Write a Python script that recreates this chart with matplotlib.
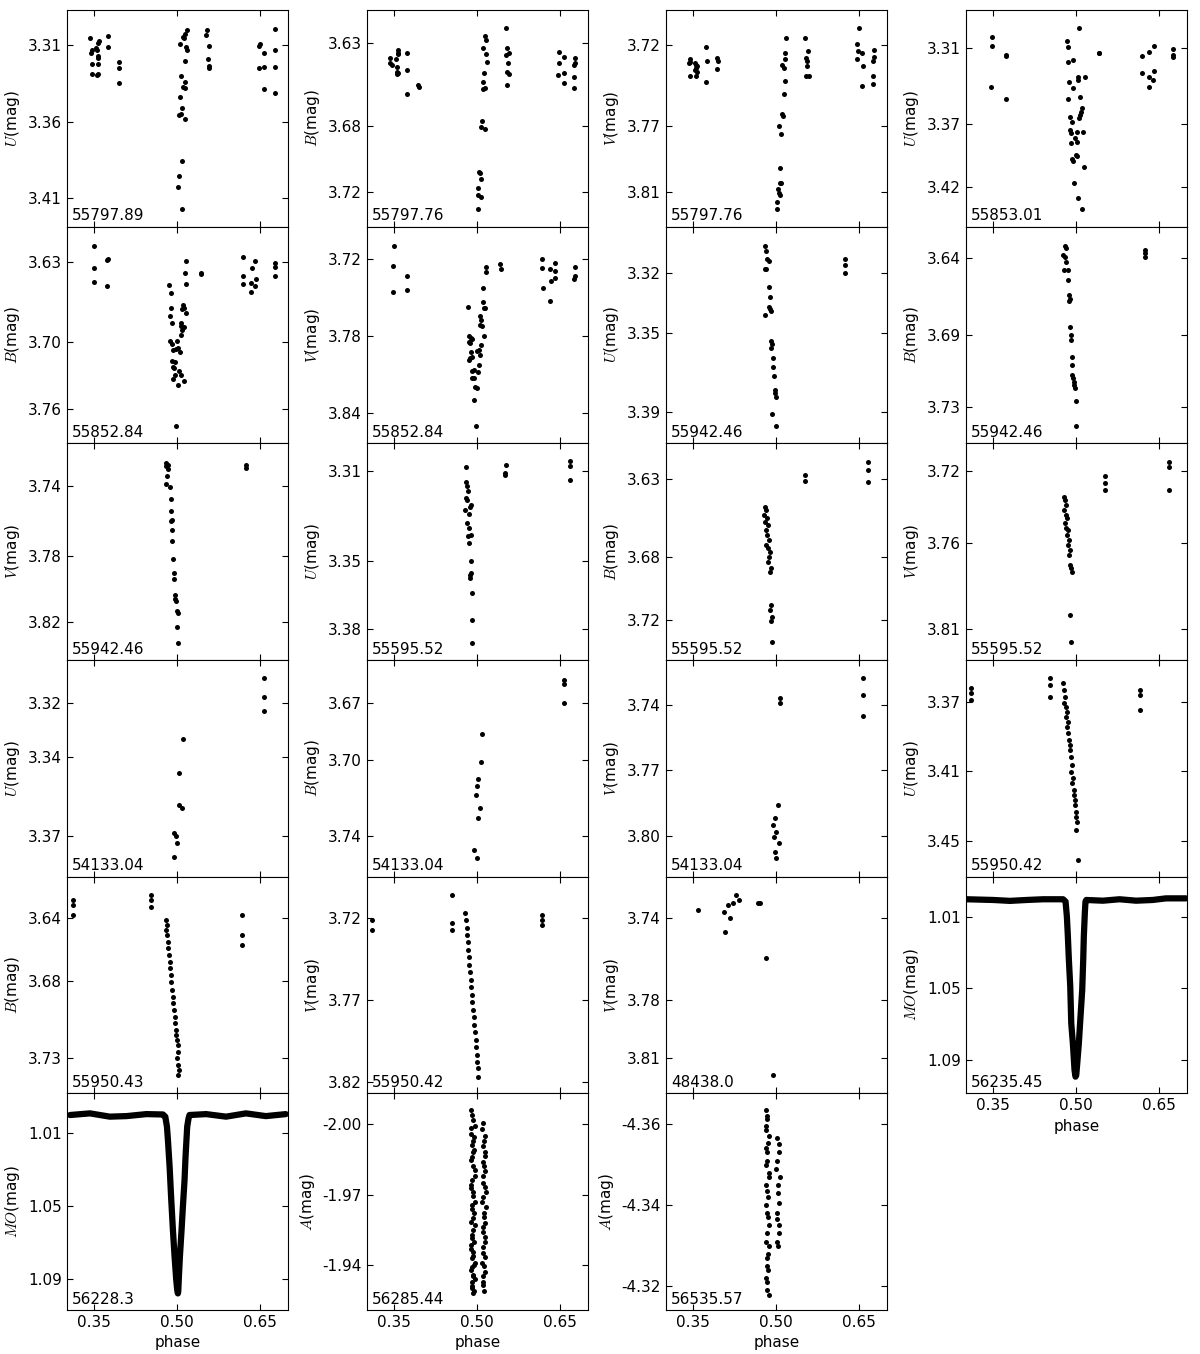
import matplotlib
matplotlib.use('Agg')
import numpy as np
import matplotlib.pyplot as plt
from matplotlib.ticker import FormatStrFormatter

plt.rcParams['font.family'] = 'DejaVu Sans'
plt.rcParams['mathtext.fontset'] = 'cm'
plt.rcParams['font.size'] = 11

# ---------------- data: phase / magnitude per night and band ----------------
ph_u1 = [0.343, 0.358, 0.356, 0.345, 0.344, 0.354, 0.353, 0.356, 0.356, 0.346, 0.356, 0.346, 0.354, 0.357, 0.374, 0.375, 0.394, 0.394, 0.394,
         0.518, 0.513, 0.511, 0.512, 0.505, 0.515, 0.517, 0.513, 0.506, 0.513, 0.510, 0.514, 0.504, 0.509, 0.506, 0.503, 0.514, 0.508, 0.503, 0.502, 0.509,
         0.553, 0.552, 0.557, 0.555, 0.557, 0.558,
         0.649, 0.647, 0.657, 0.647, 0.657, 0.657,
         0.677, 0.677, 0.676, 0.676]
mag_u1 = [3.305, 3.307, 3.3085, 3.3133, 3.315, 3.3128, 3.3115, 3.3172, 3.3183, 3.322, 3.322, 3.3289, 3.3296, 3.3289, 3.3041, 3.3111, 3.3209, 3.3248, 3.3346,
          3.3002, 3.3024, 3.3046, 3.305, 3.3089, 3.3111, 3.3133, 3.3202, 3.3302, 3.3339, 3.3376, 3.3378, 3.3437, 3.3509, 3.355, 3.3554, 3.3585, 3.3854, 3.3952, 3.4024, 3.4172,
          3.3002, 3.3033, 3.3102, 3.3191, 3.3237, 3.3248,
          3.3089, 3.3102, 3.3148, 3.3248, 3.3241, 3.3387,
          3.2991, 3.3133, 3.3241, 3.3415]

ph_b1 = [0.343, 0.342, 0.345, 0.353, 0.354, 0.356, 0.356, 0.356, 0.355, 0.357, 0.354, 0.373, 0.373, 0.372, 0.393, 0.394,
         0.514, 0.516, 0.511, 0.516, 0.517, 0.512, 0.511, 0.513, 0.510, 0.508, 0.506, 0.513, 0.503, 0.505, 0.507, 0.502, 0.502, 0.506, 0.502,
         0.552, 0.554, 0.552, 0.557, 0.556, 0.554, 0.557, 0.554,
         0.647, 0.656, 0.648, 0.646, 0.656, 0.656, 0.676, 0.676, 0.674, 0.674, 0.674]
mag_b1 = [3.6387, 3.6417, 3.6433, 3.6397, 3.6441, 3.634, 3.6356, 3.6366, 3.6471, 3.6481, 3.6485, 3.6356, 3.6461, 3.6608, 3.6552, 3.6566,
          3.6256, 3.628, 3.633, 3.6366, 3.6411, 3.6481, 3.6532, 3.6572, 3.6578, 3.6767, 3.6808, 3.682, 3.7075, 3.7081, 3.7122, 3.7172, 3.7216, 3.7231, 3.7301,
          3.6209, 3.633, 3.637, 3.636, 3.6421, 3.6471, 3.6485, 3.655,
          3.635, 3.6381, 3.6421, 3.6491, 3.6481, 3.6542, 3.6391, 3.6421, 3.6433, 3.6501, 3.6572]

ph_v1 = [0.3436, 0.3424, 0.3448, 0.3526, 0.355, 0.3556, 0.3574, 0.3526, 0.3574, 0.3448, 0.3556, 0.3736, 0.3742, 0.3736, 0.3928, 0.394, 0.3928,
         0.5182, 0.5158, 0.5158, 0.511, 0.5134, 0.5164, 0.5146, 0.5098, 0.5122, 0.5056, 0.5086, 0.5074, 0.5062, 0.5086, 0.5032, 0.5044, 0.5062, 0.502, 0.502,
         0.5518, 0.5578, 0.5536, 0.5554, 0.5548, 0.5536, 0.559,
         0.649, 0.6466, 0.6484, 0.646, 0.6556, 0.6562, 0.6544, 0.6766, 0.6766, 0.6754, 0.6754, 0.6754]
mag_v1 = [3.7286, 3.7312, 3.7306, 3.7312, 3.7323, 3.7343, 3.7329, 3.7353, 3.7364, 3.739, 3.739, 3.721, 3.7298, 3.7429, 3.7282, 3.7298, 3.7347,
          3.7159, 3.7247, 3.7288, 3.7323, 3.7343, 3.7419, 3.7501, 3.7623, 3.7634, 3.7697, 3.7748, 3.7957, 3.8045, 3.8045, 3.8085, 3.8106, 3.812, 3.8161, 3.8208,
          3.7159, 3.7237, 3.7282, 3.7298, 3.7327, 3.739, 3.739,
          3.7098, 3.7196, 3.7235, 3.7288, 3.7247, 3.7329, 3.7449, 3.7231, 3.7272, 3.7298, 3.739, 3.7439]

ph_u2 = [0.3484, 0.3472, 0.3466, 0.3724, 0.3736, 0.3724,
         0.5044, 0.4834, 0.4858, 0.4858, 0.4942, 0.5026, 0.5038, 0.5158, 0.487, 0.4942, 0.5062, 0.4846, 0.5098, 0.5086, 0.5062, 0.505, 0.4894,
         0.4924, 0.4882, 0.49, 0.5014, 0.5116, 0.4978, 0.502, 0.4906, 0.499, 0.5008, 0.4924, 0.4942, 0.5146, 0.496, 0.5032, 0.5104,
         0.5416, 0.5404,
         0.6178, 0.6178, 0.6316, 0.64, 0.6316, 0.631, 0.64, 0.6388, 0.6754, 0.6754, 0.6748]
mag_u2 = [3.3007, 3.3081, 3.3405, 3.3153, 3.3161, 3.3506,
          3.2941, 3.3042, 3.3092, 3.3206, 3.3193, 3.3325, 3.3352, 3.3325, 3.3365, 3.3413, 3.3485, 3.3506, 3.3577, 3.3604, 3.363, 3.3657, 3.3644,
          3.3683, 3.375, 3.3776, 3.3763, 3.3763, 3.3816, 3.3843, 3.3856, 3.3949, 3.3957, 3.3983, 3.3994, 3.4047, 3.4174, 3.4288, 3.4381,
          3.314, 3.3134,
          3.3161, 3.3299, 3.3127, 3.3081, 3.3331, 3.3405, 3.3283, 3.3352, 3.3105, 3.3166, 3.3153]

ph_b2 = [0.3491, 0.3485, 0.3491, 0.3743, 0.3737, 0.3737,
         0.4853, 0.4883, 0.4883, 0.4865, 0.4895, 0.4859, 0.4907, 0.4997, 0.4919, 0.4967, 0.5015, 0.5045, 0.4895, 0.4949, 0.4919,
         0.4943, 0.5033, 0.4949, 0.5057, 0.4925, 0.5003, 0.5129, 0.4973,
         0.5153, 0.5141, 0.5159, 0.5111, 0.5081, 0.5129, 0.5165, 0.5057, 0.5075, 0.5117, 0.5081, 0.5069,
         0.5429, 0.5435,
         0.6191, 0.6407, 0.6341, 0.6191, 0.6419, 0.6185, 0.6323, 0.6407, 0.6329, 0.6773, 0.6773, 0.6767]
mag_b2 = [3.6153, 3.6347, 3.6477, 3.6273, 3.6282, 3.6506,
          3.65, 3.6568, 3.6707, 3.6775, 3.6839, 3.6996, 3.7019, 3.6996, 3.7078, 3.7066, 3.706, 3.7096, 3.7169, 3.7178, 3.7228,
          3.7237, 3.7258, 3.7296, 3.7296, 3.7334, 3.7388, 3.7346, 3.7747,
          3.6285, 3.6391, 3.6489, 3.6677, 3.6713, 3.6707, 3.6745, 3.6839, 3.6863, 3.6869, 3.6898, 3.6942,
          3.6391, 3.6406,
          3.625, 3.6285, 3.6347, 3.6418, 3.6447, 3.6489, 3.648, 3.6506, 3.6559, 3.6309, 3.6338, 3.6418]

ph_v2 = [0.3492, 0.3474, 0.348, 0.3732, 0.3726,
         0.4836, 0.4842, 0.4878, 0.4902, 0.4848, 0.486, 0.4878, 0.4986, 0.5028, 0.5064, 0.5112, 0.5052, 0.4872, 0.4896, 0.4854,
         0.5028, 0.4896, 0.4938, 0.5016, 0.4908, 0.4944, 0.4956, 0.4998, 0.4932, 0.4968,
         0.5148, 0.5148, 0.5106, 0.51, 0.513, 0.5112, 0.5052, 0.5064, 0.5046, 0.5076,
         0.5418, 0.5424,
         0.6168, 0.6168, 0.6318, 0.6402, 0.6402, 0.6396, 0.633, 0.6318, 0.618, 0.6756, 0.6756, 0.675]
mag_v2 = [3.7096, 3.7254, 3.7454, 3.7332, 3.7441,
          3.7571, 3.7799, 3.7817, 3.7822, 3.7848, 3.7856, 3.7921, 3.7915, 3.7908, 3.7869, 3.7799, 3.7947, 3.7967, 3.7959, 3.7985,
          3.8024, 3.8068, 3.8063, 3.8076, 3.8128, 3.8123, 3.8193, 3.8206, 3.8296, 3.8499,
          3.7265, 3.7304, 3.7428, 3.7532, 3.7578, 3.7584, 3.7641, 3.7674, 3.7713, 3.7718,
          3.7241, 3.7278,
          3.7203, 3.7273, 3.728, 3.7234, 3.7293, 3.735, 3.7371, 3.7524, 3.7423, 3.7262, 3.733, 3.7356]

ph_u3 = [0.4788, 0.4818, 0.4836, 0.486, 0.4788, 0.4818, 0.4866, 0.4884, 0.4872, 0.4884, 0.4896, 0.4794, 0.4902, 0.4914, 0.4902,
         0.4932, 0.4938, 0.495, 0.4968, 0.498, 0.4992, 0.4926, 0.4992, 0.624, 0.6246, 0.6246]
mag_u3 = [3.3061, 3.3087, 3.3128, 3.3138, 3.318, 3.318, 3.3267, 3.3318, 3.3368, 3.338, 3.339, 3.3408, 3.3541, 3.3558, 3.3578,
          3.3628, 3.367, 3.3717, 3.3788, 3.3805, 3.3821, 3.3909, 3.3969, 3.3128, 3.3158, 3.3197]

ph_b3 = [0.4788, 0.4806, 0.4764, 0.48, 0.4812, 0.4776, 0.4854, 0.4854, 0.486, 0.4878, 0.4866, 0.489, 0.4902, 0.4896, 0.492,
         0.4926, 0.4914, 0.4938, 0.495, 0.4956, 0.4968, 0.4992, 0.4986, 0.6234, 0.6234, 0.6234]
mag_b3 = [3.6328, 3.634, 3.6384, 3.6394, 3.6424, 3.6474, 3.6474, 3.6535, 3.6625, 3.665, 3.6662, 3.6817, 3.6867, 3.6897, 3.6998,
          3.7048, 3.7109, 3.7125, 3.7149, 3.7169, 3.7189, 3.7264, 3.7417, 3.6354, 3.6374, 3.6394]

ph_v3 = [0.4799, 0.4823, 0.4787, 0.4835, 0.4805, 0.4787, 0.4865, 0.4877, 0.4877, 0.4895, 0.4883, 0.4901, 0.4907, 0.4919, 0.4931,
         0.4937, 0.4949, 0.4961, 0.4967, 0.4991, 0.5003, 0.4985, 0.5003, 0.6245, 0.6239]
mag_v3 = [3.726, 3.7272, 3.728, 3.7296, 3.7339, 3.7384, 3.7404, 3.7477, 3.7547, 3.7597, 3.7606, 3.7656, 3.7724, 3.7826, 3.7911,
          3.7944, 3.8043, 3.8062, 3.8074, 3.8137, 3.8145, 3.8231, 3.8324, 3.7276, 3.7292]

ph_u4 = [0.4788, 0.48, 0.4812, 0.4824, 0.48, 0.4806, 0.4878, 0.4866, 0.4782, 0.4848, 0.4818, 0.4842, 0.4878, 0.483, 0.4842,
         0.4878, 0.489, 0.4866, 0.4866, 0.4902, 0.4908, 0.4908, 0.552, 0.5508, 0.5508, 0.6678, 0.6678, 0.6678]
mag_u4 = [3.3081, 3.3147, 3.3166, 3.3189, 3.3218, 3.3228, 3.3248, 3.3258, 3.327, 3.3288, 3.3327, 3.335, 3.3381, 3.3388, 3.3418,
          3.3499, 3.3549, 3.3561, 3.3571, 3.3639, 3.376, 3.3861, 3.307, 3.3107, 3.3118, 3.3056, 3.3078, 3.314]

ph_b4 = [0.4787, 0.4805, 0.4769, 0.4823, 0.4787, 0.4841, 0.4805, 0.4823, 0.4859, 0.4805, 0.4841, 0.4877, 0.4859, 0.4841, 0.4895,
         0.4877, 0.4895, 0.4877, 0.4913, 0.4895, 0.4913, 0.5522, 0.5522, 0.6656, 0.6656, 0.6656]
mag_b4 = [3.6479, 3.6498, 3.653, 3.6549, 3.6574, 3.6594, 3.6625, 3.6657, 3.6689, 3.6721, 3.674, 3.6766, 3.6798, 3.683, 3.6868,
          3.6893, 3.7104, 3.7136, 3.7181, 3.7206, 3.734, 3.6274, 3.6313, 3.6192, 3.6243, 3.6319]

ph_v4 = [0.4769, 0.4787, 0.4805, 0.4769, 0.4805, 0.4823, 0.4787, 0.4805, 0.4841, 0.4823, 0.4859, 0.4841, 0.4877, 0.4859, 0.4877,
         0.4895, 0.4913, 0.4877, 0.4895, 0.5509, 0.5509, 0.5509, 0.6677, 0.6677, 0.6677]
mag_v4 = [3.7348, 3.7365, 3.7394, 3.7422, 3.7451, 3.7468, 3.7496, 3.7525, 3.7536, 3.7565, 3.7593, 3.7622, 3.765, 3.7679, 3.7736,
          3.7753, 3.7775, 3.8021, 3.8174, 3.7228, 3.7268, 3.7308, 3.7149, 3.7177, 3.7308]

ph_u5 = [0.657, 0.657, 0.657, 0.5097, 0.5022, 0.5022, 0.5076, 0.4931, 0.4967, 0.4985, 0.4931]
mag_u5 = [3.3106, 3.3177, 3.323, 3.3335, 3.3463, 3.3583, 3.3595, 3.3689, 3.37, 3.3726, 3.3779]

ph_b5 = [0.657, 0.657, 0.657, 0.5093, 0.5075, 0.5003, 0.4985, 0.4967, 0.5039, 0.5003, 0.4931, 0.4985]
mag_b5 = [3.6579, 3.66, 3.67, 3.6863, 3.7011, 3.71, 3.7137, 3.7184, 3.7253, 3.7305, 3.7474, 3.7516]

ph_v5 = [0.657, 0.657, 0.657, 0.5075, 0.5075, 0.5021, 0.4967, 0.4931, 0.4985, 0.4949, 0.5039, 0.4967, 0.4985]
mag_v5 = [3.7276, 3.7354, 3.745, 3.7368, 3.7391, 3.7858, 3.7918, 3.795, 3.7982, 3.8005, 3.8032, 3.8073, 3.8101]

ph_u6 = [0.3095, 0.3095, 0.3095, 0.4517, 0.4517, 0.4517,
         0.4751, 0.4769, 0.4787, 0.4769, 0.4805, 0.4823, 0.4805, 0.4841, 0.4823, 0.4841, 0.4859, 0.4877, 0.4877, 0.4895,
         0.4913, 0.4895, 0.4931, 0.4913, 0.4949, 0.4949, 0.4967, 0.4967, 0.4985, 0.4985, 0.5003, 0.4985, 0.5021,
         0.6157, 0.6157, 0.6157]
mag_u6 = [3.3619, 3.3648, 3.3688, 3.3562, 3.3602, 3.3671,
          3.3591, 3.3631, 3.3671, 3.3706, 3.3729, 3.3758, 3.3786, 3.3815, 3.3844, 3.3878, 3.3919, 3.3948, 3.3976, 3.4017,
          3.4063, 3.4103, 3.4138, 3.4166, 3.4207, 3.4235, 3.4264, 3.4293, 3.4333, 3.4362, 3.4391, 3.4437, 3.461,
          3.3631, 3.366, 3.3746]

ph_b6 = [0.3113, 0.3113, 0.3113, 0.4517, 0.4517, 0.4517, 0.6175, 0.6175, 0.6175,
         0.4787, 0.4805, 0.4787, 0.4805, 0.4823, 0.4823, 0.4841, 0.4859, 0.4859, 0.4877, 0.4877, 0.4895, 0.4913,
         0.4913, 0.4931, 0.4949, 0.4949, 0.4967, 0.4967, 0.4985, 0.5003, 0.5003, 0.4985, 0.5003, 0.5021, 0.5003]
mag_b6 = [3.6284, 3.6316, 3.6381, 3.6252, 3.6284, 3.6329, 3.6381, 3.6509, 3.6574,
          3.6413, 3.6445, 3.6477, 3.6509, 3.6554, 3.6593, 3.6638, 3.6683, 3.6722, 3.6767, 3.6812, 3.6863, 3.6908,
          3.6947, 3.6992, 3.7037, 3.7075, 3.712, 3.7152, 3.7185, 3.7217, 3.7262, 3.73, 3.7345, 3.7377, 3.741]

ph_v6 = [0.3095, 0.3095, 0.4535, 0.4535, 0.4535, 0.6175, 0.6175, 0.6175,
         0.4769, 0.4787, 0.4805, 0.4805, 0.4823, 0.4823, 0.4841, 0.4841, 0.4859, 0.4877, 0.4877, 0.4895, 0.4895,
         0.4913, 0.4931, 0.4931, 0.4949, 0.4967, 0.4967, 0.4985, 0.4985, 0.5003, 0.5003]
mag_v6 = [3.7212, 3.7273, 3.706, 3.723, 3.7273, 3.7182, 3.7212, 3.7243,
          3.717, 3.7212, 3.7261, 3.7304, 3.7346, 3.7395, 3.7438, 3.7487, 3.7529, 3.7578, 3.7621, 3.767, 3.7712,
          3.7761, 3.7804, 3.7852, 3.7895, 3.7944, 3.7987, 3.8035, 3.8078, 3.8115, 3.817]

ph_v7 = [0.3581, 0.4049, 0.4067, 0.4121, 0.4157, 0.4211, 0.4265, 0.4319, 0.4661, 0.4697, 0.4805, 0.4931]
mag_v7 = [3.736, 3.737, 3.747, 3.7335, 3.74, 3.7325, 3.7285, 3.731, 3.7325, 3.7325, 3.76, 3.8185]

# dense photometry nights, read along the out-of-eclipse level and both eclipse branches
ph_mo1 = [0.302, 0.350, 0.380, 0.410, 0.440, 0.476,
          0.4805, 0.4829, 0.4847, 0.4865, 0.489, 0.4908, 0.4937, 0.4967, 0.4985,
          0.4998, 0.5016, 0.5045, 0.5075, 0.5106, 0.5124, 0.5135, 0.5153, 0.5165,
          0.518, 0.548, 0.578, 0.608, 0.638, 0.662, 0.698]
mag_mo1 = [1.0003, 1.0007, 1.0012, 1.0007, 1.0003, 1.0003,
           1.0016, 1.01, 1.0212, 1.0342, 1.0491, 1.0695, 1.0807, 1.0956, 1.0993,
           1.0984, 1.0919, 1.0807, 1.0658, 1.0509, 1.0342, 1.0212, 1.0081, 1.0016,
           1.0007, 1.0011, 1.0003, 1.0011, 1.0007, 0.9998, 0.9998]

ph_mo2 = [0.306, 0.342, 0.378, 0.408, 0.444, 0.474,
          0.4782, 0.4812, 0.483, 0.486, 0.489, 0.492, 0.495, 0.498, 0.4998, 0.501,
          0.5016, 0.5028, 0.5046, 0.5076, 0.51, 0.513, 0.5148, 0.5178, 0.5202,
          0.522, 0.552, 0.588, 0.624, 0.66, 0.696]
mag_mo2 = [0.9999, 0.999, 1.0008, 1.0005, 0.9994, 0.9996,
           1.0008, 1.0063, 1.0137, 1.0283, 1.0466, 1.0631, 1.0777, 1.0905, 1.096, 1.0979,
           1.0969, 1.0887, 1.0777, 1.0631, 1.0503, 1.0356, 1.0228, 1.0063, 1.0018,
           0.9999, 0.9994, 1.0008, 0.999, 1.0005, 0.9994]

ph_a1 = [0.489, 0.493, 0.488, 0.494, 0.490, 0.492, 0.489, 0.495, 0.491, 0.488, 0.493, 0.490, 0.494, 0.489, 0.492, 0.491, 0.488,
         0.493, 0.490, 0.494, 0.489, 0.492, 0.491, 0.490, 0.493,
         0.491, 0.495, 0.489, 0.492, 0.494, 0.490, 0.493, 0.496, 0.489, 0.492, 0.495, 0.490, 0.493, 0.496, 0.491, 0.494,
         0.489, 0.492, 0.495, 0.490, 0.493, 0.496, 0.491, 0.494,
         0.510, 0.513, 0.511, 0.514, 0.512, 0.510, 0.513, 0.511, 0.515, 0.512, 0.510, 0.514, 0.511, 0.513, 0.512, 0.510, 0.511, 0.512,
         0.509, 0.512, 0.514, 0.510, 0.513, 0.511, 0.515, 0.509, 0.512, 0.514, 0.510, 0.513, 0.511, 0.509, 0.513, 0.510]
mag_a1 = [-2.006, -2.0017, -1.9983, -1.9945, -1.9911, -1.9881, -1.9847, -1.9804, -1.9762, -1.9728, -1.9694, -1.9655, -1.9621, -1.9583,
          -1.9549, -1.9515, -1.9485, -1.9455, -1.943, -1.94, -1.9379, -1.9353, -1.9328, -1.9302, -1.9281,
          -2.004, -1.999, -1.996, -1.993, -1.989, -1.986, -1.982, -1.978, -1.974, -1.971, -1.967, -1.964, -1.960, -1.957, -1.953, -1.950,
          -1.947, -1.944, -1.941, -1.939, -1.936, -1.934, -1.931, -1.929,
          -2.0005, -1.995, -1.9907, -1.9865, -1.9822, -1.978, -1.9733, -1.969, -1.9648, -1.9605, -1.9562, -1.952, -1.9477, -1.9435,
          -1.9396, -1.9354, -1.9315, -1.929,
          -1.998, -1.993, -1.988, -1.984, -1.980, -1.975, -1.971, -1.967, -1.962, -1.958, -1.954, -1.950, -1.945, -1.941, -1.937, -1.933]

ph_a2 = [0.481, 0.484, 0.482, 0.485, 0.483, 0.481, 0.486, 0.484, 0.482, 0.485, 0.483, 0.486, 0.484, 0.485, 0.483, 0.486,
         0.483, 0.481, 0.486, 0.482, 0.484, 0.487, 0.481, 0.485, 0.483, 0.486, 0.482, 0.485, 0.483, 0.481, 0.484,
         0.501, 0.504, 0.500, 0.503, 0.505, 0.502, 0.504, 0.503, 0.505, 0.501, 0.506, 0.503, 0.501, 0.504, 0.502]
mag_a2 = [-4.3635, -4.3612, -4.3585, -4.3553, -4.353, -4.35, -4.347, -4.3435, -4.34, -4.337, -4.333, -4.33, -4.327, -4.324, -4.321, -4.3178,
          -4.362, -4.3595, -4.357, -4.354, -4.351, -4.348, -4.345, -4.342, -4.338, -4.335, -4.331, -4.328, -4.325, -4.322, -4.319,
          -4.3565, -4.353, -4.349, -4.345, -4.3405, -4.3365, -4.333, -4.33, -4.355, -4.351, -4.347, -4.343, -4.338, -4.335, -4.331]

# --------- panel list: (band, night label, phases, mags, ytick values, ylim) ---------
panels = [
    ('U', '55797.89', ph_u1, mag_u1, [3.31, 3.36, 3.41], (3.4285, 3.287)),
    ('B', '55797.76', ph_b1, mag_b1, [3.63, 3.68, 3.72], (3.7408, 3.6099)),
    ('V', '55797.76', ph_v1, mag_v1, [3.72, 3.77, 3.81], (3.8315, 3.6985)),
    ('U', '55853.01', ph_u2, mag_u2, [3.31, 3.37, 3.42], (3.4519, 3.2795)),
    ('B', '55852.84', ph_b2, mag_b2, [3.63, 3.70, 3.76], (3.790, 3.5985)),
    ('V', '55852.84', ph_v2, mag_v2, [3.72, 3.78, 3.84], (3.8633, 3.6949)),
    ('U', '55942.46', ph_u3, mag_u3, [3.32, 3.35, 3.39], (3.4056, 3.2965)),
    ('B', '55942.46', ph_b3, mag_b3, [3.64, 3.6867, 3.73], (3.7521, 3.6213)),
    ('V', '55942.46', ph_v3, mag_v3, [3.74, 3.7811, 3.82], (3.8424, 3.7146)),
    ('U', '55595.52', ph_u4, mag_u4, [3.31, 3.3497, 3.38], (3.3936, 3.2976)),
    ('B', '55595.52', ph_b4, mag_b4, [3.63, 3.68, 3.72], (3.7455, 3.6072)),
    ('V', '55595.52', ph_v4, mag_v4, [3.72, 3.761, 3.81], (3.8277, 3.7042)),
    ('U', '54133.04', ph_u5, mag_u5, [3.32, 3.3403, 3.37], (3.3853, 3.3038)),
    ('B', '54133.04', ph_b5, mag_b5, [3.67, 3.70, 3.74], (3.7614, 3.6474)),
    ('V', '54133.04', ph_v5, mag_v5, [3.74, 3.77, 3.80], (3.8187, 3.7194)),
    ('U', '55950.42', ph_u6, mag_u6, [3.37, 3.41, 3.45], (3.4706, 3.3458)),
    ('B', '55950.43', ph_b6, mag_b6, [3.64, 3.6805, 3.73], (3.7527, 3.6134)),
    ('V', '55950.42', ph_v6, mag_v6, [3.72, 3.77, 3.82], (3.8269, 3.6948)),
    ('V', '48438.0', ph_v7, mag_v7, [3.74, 3.781, 3.81], (3.8277, 3.7194)),
    ('MO', '56235.45', ph_mo1, mag_mo1, [1.01, 1.05, 1.09], (1.1086, 0.9877)),
    ('MO', '56228.3', ph_mo2, mag_mo2, [1.01, 1.05, 1.09], (1.107, 0.988)),
    ('A', '56285.44', ph_a1, mag_a1, [-2.00, -1.97, -1.94], (-1.9209, -2.0131)),
    ('A', '56535.57', ph_a2, mag_a2, [-4.36, -4.34, -4.32], (-4.3141, -4.3676)),
]

# --------------------------------- figure ---------------------------------
W, H = 1200, 1354
fig = plt.figure(figsize=(W / 100, H / 100), dpi=100, facecolor='white')
col_left = [66.7, 366.7, 665.7, 965.7]
ax_w = 221.3
row_top = 10.0
ax_h = 216.67

for i, (band, night, ph, mag, yt, yl) in enumerate(panels):
    row, col = divmod(i, 4)
    if i >= 20:
        row, col = 5, i - 20
    x0 = col_left[col] / W
    y0 = 1 - (row_top + (row + 1) * ax_h) / H
    ax = fig.add_axes([x0, y0, ax_w / W, ax_h / H])
    if band == 'MO':
        # dense light curve: points merge into a thick band
        ax.plot(ph, mag, '-', color='k', lw=4.5, solid_capstyle='round', solid_joinstyle='round')
    else:
        ax.plot(ph, mag, 'o', color='k', ms=3.6, mec='none')
    ax.set_xlim(0.30, 0.70)
    ax.set_ylim(*yl)
    ax.set_xticks([0.35, 0.50, 0.65])
    ax.set_yticks(yt)
    ax.yaxis.set_major_formatter(FormatStrFormatter('%.2f'))
    ax.xaxis.set_major_formatter(FormatStrFormatter('%.2f'))
    ax.tick_params(direction='in', top=True, right=True, length=4, width=0.8, labelsize=11)
    ax.set_ylabel('$' + band + '$(mag)', fontsize=11)
    ax.text(0.025, 0.015, night, transform=ax.transAxes, fontsize=11, ha='left', va='bottom')
    if row == 5 or (row == 4 and col == 3):
        ax.set_xlabel('phase', fontsize=11)
    else:
        ax.tick_params(labelbottom=False)

fig.savefig('out.png', dpi=100, facecolor='white')
